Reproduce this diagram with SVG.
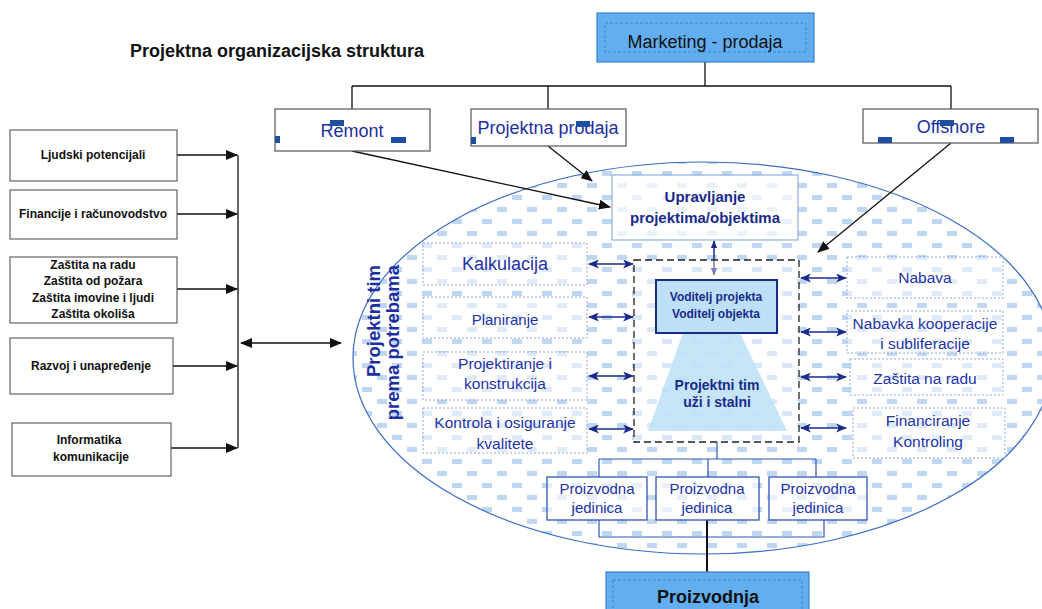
<svg xmlns="http://www.w3.org/2000/svg" width="1042" height="609" viewBox="0 0 1042 609">
<style>
text{font-family:"Liberation Sans",Arial,sans-serif}
.lbox{fill:#fff;stroke:#444;stroke-width:1}
.lt{font-size:12px;font-weight:bold;fill:#111;text-anchor:middle}
.top{fill:#fff;stroke:#555;stroke-width:1.2}
.tt{font-size:18px;fill:#1c2fa0;text-anchor:middle}
.deco{fill:#1f4fa0}
.ib{fill:#fff;fill-opacity:0.5;stroke:#8fa8d8;stroke-width:1;stroke-dasharray:2,2}
.it{font-size:15.5px;fill:#2233a8;text-anchor:middle}
.big{font-size:18px}
.med{font-size:15px}
.pj{fill:#fff;fill-opacity:0.6;stroke:#2d55b8;stroke-width:1.3}
.blk{stroke:#111;stroke-width:1.3;fill:none}
.blu{stroke:#1a2a8a;stroke-width:1.5;fill:none}
.blue2{stroke:#2d55b8;stroke-width:1.2;fill:none}
.bigbox{fill:#62aef0;stroke:#3a80d0;stroke-width:1.2}
.inner{fill:none;stroke:#3a78c0;stroke-width:0.8;stroke-dasharray:3,2}
</style>
<defs>
<pattern id="pat" width="30" height="24" patternUnits="userSpaceOnUse">
<rect x="2" y="3" width="10" height="5" fill="#c0d7f4"/>
<rect x="17" y="15" width="10" height="5" fill="#c0d7f4"/>
</pattern>
<marker id="ab" viewBox="0 0 12 10" refX="11" refY="5" markerWidth="12" markerHeight="10" markerUnits="userSpaceOnUse" orient="auto-start-reverse"><path d="M0,0 L12,5 L0,10 Z" fill="#111"/></marker>
<marker id="au" viewBox="0 0 12 10" refX="11" refY="5" markerWidth="12" markerHeight="9" markerUnits="userSpaceOnUse" orient="auto-start-reverse"><path d="M0,0 L12,5 L0,10 L3,5 Z" fill="#1a2a8a"/></marker>
<marker id="as" viewBox="0 0 10 8" refX="9" refY="4" markerWidth="8" markerHeight="7" markerUnits="userSpaceOnUse" orient="auto-start-reverse"><path d="M0,0 L10,4 L0,8 Z" fill="#1a2a8a"/></marker>
</defs>
<rect width="1042" height="609" fill="#fff"/>

<text x="277" y="57" font-size="18" font-weight="bold" fill="#111" text-anchor="middle">Projektna organizacijska struktura</text>

<g id="ellipse">
<ellipse cx="703" cy="358" rx="350" ry="196" fill="#fff"/>
<ellipse cx="703" cy="358" rx="350" ry="196" fill="url(#pat)" stroke="#3a6cc8" stroke-width="1.2"/>
<text transform="translate(380,265) rotate(-90)" font-size="18.5" font-weight="bold" fill="#1c2fa0" text-anchor="end">Projektni tim</text>
<text transform="translate(399,265) rotate(-90)" font-size="18.5" font-weight="bold" fill="#1c2fa0" text-anchor="end">prema potrebama</text>
</g>

<g id="connectors">
<path class="blk" d="M705,62 V86 M352,86 H951 M352,86 V109 M548,86 V109 M951,86 V109"/>
<path class="blk" d="M238,155 V448"/>
<line class="blk" x1="177" y1="155" x2="237" y2="155" marker-end="url(#ab)"/>
<line class="blk" x1="177" y1="214" x2="237" y2="214" marker-end="url(#ab)"/>
<line class="blk" x1="177" y1="289" x2="237" y2="289" marker-end="url(#ab)"/>
<line class="blk" x1="173" y1="366" x2="237" y2="366" marker-end="url(#ab)"/>
<line class="blk" x1="171" y1="448" x2="237" y2="448" marker-end="url(#ab)"/>
<line class="blk" x1="241" y1="343" x2="341" y2="343" marker-start="url(#ab)" marker-end="url(#ab)"/>
<line class="blk" x1="352" y1="151" x2="610" y2="207" marker-end="url(#ab)"/>
<line class="blk" x1="548" y1="146" x2="592" y2="181" marker-end="url(#ab)"/>
<line class="blk" x1="951" y1="143" x2="818" y2="252" marker-end="url(#ab)"/>
<line class="blu" x1="714" y1="241" x2="714" y2="275" stroke-width="1" marker-start="url(#as)" marker-end="url(#as)"/>
<line class="blu" x1="589" y1="264" x2="633" y2="264" marker-start="url(#au)" marker-end="url(#au)"/>
<line class="blu" x1="589" y1="317" x2="633" y2="317" marker-start="url(#au)" marker-end="url(#au)"/>
<line class="blu" x1="589" y1="376" x2="633" y2="376" marker-start="url(#au)" marker-end="url(#au)"/>
<line class="blu" x1="589" y1="429" x2="633" y2="429" marker-start="url(#au)" marker-end="url(#au)"/>
<line class="blu" x1="801" y1="278" x2="846" y2="278" marker-start="url(#au)" marker-end="url(#au)"/>
<line class="blu" x1="801" y1="332" x2="846" y2="332" marker-start="url(#au)" marker-end="url(#au)"/>
<line class="blu" x1="801" y1="377" x2="846" y2="377" marker-start="url(#au)" marker-end="url(#au)"/>
<line class="blu" x1="801" y1="428" x2="846" y2="428" marker-start="url(#au)" marker-end="url(#au)"/>
<path class="blue2" d="M717,442 V459 M599,459 H816 M599,459 V477 M708,459 V477 M816,459 V477"/>
<path class="blue2" d="M599,520 V537 H824 V520"/>
<path stroke="#111" stroke-width="2" fill="none" d="M707,520 V572"/>
</g>

<g id="marketing">
<rect class="bigbox" x="597" y="13" width="217" height="49"/>
<rect class="inner" x="605" y="23" width="201" height="29"/>
<text x="705" y="48" font-size="18" fill="#111" text-anchor="middle">Marketing - prodaja</text>
</g>

<g id="remont">
<rect class="top" x="275" y="109" width="155" height="42"/>
<text class="tt" x="352" y="137">Remont</text>
<rect class="deco" x="330" y="120" width="14" height="6"/>
<rect class="deco" x="275" y="136" width="5" height="7"/>
<rect class="deco" x="391" y="137" width="15" height="6"/>
</g>
<g id="projektna-prodaja">
<rect class="top" x="471" y="109" width="155" height="37"/>
<text class="tt" x="548" y="134">Projektna prodaja</text>
<rect class="deco" x="576" y="121" width="14" height="6"/>
<rect class="deco" x="471" y="137" width="5" height="7"/>
</g>
<g id="offshore">
<rect class="top" x="863" y="109" width="175" height="34"/>
<text class="tt" x="951" y="133">Offshore</text>
<rect class="deco" x="940" y="120" width="14" height="6"/>
<rect class="deco" x="878" y="137" width="14" height="6"/>
<rect class="deco" x="1000" y="137" width="14" height="6"/>
</g>

<g id="ljudski">
<rect class="lbox" x="10" y="130" width="167" height="51"/>
<text class="lt" x="93" y="159">Ljudski potencijali</text>
</g>
<g id="financije">
<rect class="lbox" x="10" y="190" width="167" height="49"/>
<text class="lt" x="93" y="218">Financije i računovodstvo</text>
</g>
<g id="zastita">
<rect class="lbox" x="10" y="257" width="167" height="66"/>
<text class="lt" x="93" y="269">Zaštita na radu</text>
<text class="lt" x="93" y="285">Zaštita od požara</text>
<text class="lt" x="93" y="302">Zaštita imovine i ljudi</text>
<text class="lt" x="93" y="318">Zaštita okoliša</text>
</g>
<g id="razvoj">
<rect class="lbox" x="10" y="338" width="163" height="56"/>
<text class="lt" x="91" y="370">Razvoj i unapređenje</text>
</g>
<g id="informatika">
<rect class="lbox" x="12" y="423" width="159" height="53"/>
<text class="lt" x="89" y="444">Informatika</text>
<text class="lt" x="91" y="461">komunikacije</text>
</g>

<g id="upravljanje">
<rect x="612" y="175" width="186" height="65" fill="#fff" fill-opacity="0.65" stroke="#8fb0e0" stroke-width="1.2"/>
<text x="705" y="202" font-size="15" font-weight="bold" fill="#1a2a8a" text-anchor="middle">Upravljanje</text>
<text x="705" y="223" font-size="15" font-weight="bold" fill="#1a2a8a" text-anchor="middle">projektima/objektima</text>
</g>

<g id="projektni-tim">
<rect x="634" y="260" width="165" height="182" fill="#fff" fill-opacity="0.4" stroke="#222" stroke-width="1.3" stroke-dasharray="7,4"/>
<polygon points="683,333 740,333 787,431 648,431" fill="#bde0f7" fill-opacity="0.85"/>
<text x="717" y="390" font-size="14" font-weight="bold" fill="#1a2a8a" text-anchor="middle">Projektni tim</text>
<text x="717" y="407" font-size="14" font-weight="bold" fill="#1a2a8a" text-anchor="middle">uži i stalni</text>
</g>
<g id="voditelj">
<rect x="656" y="280" width="121" height="53" fill="#bde0f7" stroke="#1a2a8a" stroke-width="2"/>
<text x="716" y="301" font-size="12" font-weight="bold" fill="#1a2a8a" text-anchor="middle">Voditelj projekta</text>
<text x="716" y="318" font-size="12" font-weight="bold" fill="#1a2a8a" text-anchor="middle">Voditelj objekta</text>
</g>

<g id="kalkulacija">
<rect class="ib" x="423" y="243" width="164" height="42"/>
<text class="it big" x="505" y="270">Kalkulacija</text>
</g>
<g id="planiranje">
<rect class="ib" x="423" y="297" width="164" height="41"/>
<text class="it med" x="505" y="325">Planiranje</text>
</g>
<g id="projektiranje">
<rect class="ib" x="423" y="352" width="164" height="48"/>
<text class="it" x="505" y="369">Projektiranje i</text>
<text class="it" x="505" y="389">konstrukcija</text>
</g>
<g id="kontrola">
<rect class="ib" x="423" y="408" width="164" height="45"/>
<text class="it" x="505" y="428">Kontrola i osiguranje</text>
<text class="it" x="505" y="449">kvalitete</text>
</g>

<g id="nabava">
<rect class="ib" x="847" y="257" width="156" height="41"/>
<text class="it" x="925" y="283">Nabava</text>
</g>
<g id="nabavka">
<rect class="ib" x="847" y="311" width="156" height="42"/>
<text class="it" x="925" y="329">Nabavka kooperacije</text>
<text class="it" x="925" y="349">i subliferacije</text>
</g>
<g id="zastita-na-radu">
<rect class="ib" x="850" y="359" width="153" height="36"/>
<text class="it" x="925" y="384">Zaštita na radu</text>
</g>
<g id="financiranje">
<rect class="ib" x="853" y="408" width="152" height="50"/>
<text class="it" x="928" y="426">Financiranje</text>
<text class="it" x="928" y="447">Kontroling</text>
</g>

<g id="pj1">
<rect class="pj" x="547" y="477" width="100" height="43"/>
<text class="it med" x="597" y="494">Proizvodna</text>
<text class="it med" x="597" y="513">jedinica</text>
</g>
<g id="pj2">
<rect class="pj" x="656" y="477" width="103" height="43"/>
<text class="it med" x="707" y="494">Proizvodna</text>
<text class="it med" x="707" y="513">jedinica</text>
</g>
<g id="pj3">
<rect class="pj" x="769" y="477" width="98" height="43"/>
<text class="it med" x="818" y="494">Proizvodna</text>
<text class="it med" x="818" y="513">jedinica</text>
</g>

<g id="proizvodnja">
<rect class="bigbox" x="606" y="572" width="203" height="45"/>
<rect class="inner" x="613" y="580" width="189" height="30"/>
<text x="708" y="603" font-size="18" font-weight="bold" fill="#111" text-anchor="middle">Proizvodnja</text>
</g>
</svg>
